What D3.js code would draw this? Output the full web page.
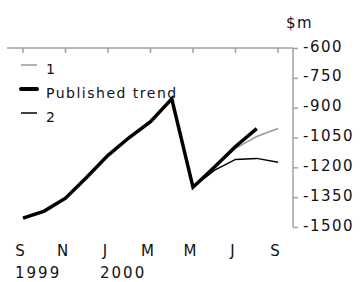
<!DOCTYPE html>
<html>
<head>
<meta charset="utf-8">
<script src="https://cdn.jsdelivr.net/npm/d3@7"></script>
<style>
  body { margin: 0; background: #fff; }
  text { font-family: "DejaVu Sans", sans-serif; fill: #111; }
</style>
</head>
<body>
<div id="chart"></div>
<script>
// months on the x axis, Sep 1999 .. Sep 2000
const months = ["1999-09", "1999-10", "1999-11", "1999-12", "2000-01", "2000-02", "2000-03",
                "2000-04", "2000-05", "2000-06", "2000-07", "2000-08", "2000-09"];
const monthTicks = ["1999-09", "1999-11", "2000-01", "2000-03", "2000-05", "2000-07", "2000-09"];
const monthLabels = ["S", "N", "J", "M", "M", "J", "S"];
const yearLabels = ["1999", "", "2000", "", "", "", ""];

// $m
const publishedTrend = [-1455, -1420, -1355, -1250, -1140, -1050, -970, -855, -1300, -1200, -1095, -1005];
const series1Months = ["2000-05", "2000-06", "2000-07", "2000-08", "2000-09"];
const series1 = [-1300, -1200, -1105, -1045, -1005];
const series2 = [-1300, -1215, -1160, -1155, -1175];
const yTicks = [-600, -750, -900, -1050, -1200, -1350, -1500];

const width = 361, height = 282;
const axisColor = "#a0a0a0";

const svg = d3.select("#chart").append("svg")
  .attr("width", width)
  .attr("height", height);

const x = d3.scalePoint().domain(months).range([23, 278]);
const y = d3.scaleLinear().domain([-1500, -600]).range([227, 48]);

// top frame line with month ticks
svg.append("line")
  .attr("x1", 7).attr("x2", 293)
  .attr("y1", y(-600)).attr("y2", y(-600))
  .attr("stroke", axisColor).attr("stroke-width", 1.5);

svg.selectAll(".mtick")
  .data(monthTicks)
  .enter().append("line")
  .attr("x1", d => x(d)).attr("x2", d => x(d))
  .attr("y1", y(-600)).attr("y2", y(-600) + 5)
  .attr("stroke", axisColor).attr("stroke-width", 1.5);

// right value axis
const yAxis = d3.axisRight(y).tickValues(yTicks).tickSize(5).tickPadding(5)
  .tickFormat(d => d);

const gy = svg.append("g")
  .attr("transform", "translate(293,0)")
  .call(yAxis);
gy.select(".domain").attr("stroke", axisColor).attr("stroke-width", 1.5)
  .attr("d", `M0,${y(-600)}V${y(-1500)}`);
gy.selectAll(".tick line").attr("stroke", axisColor).attr("stroke-width", 1.5);
gy.selectAll(".tick text")
  .attr("font-family", "DejaVu Sans")
  .attr("font-size", 15)
  .attr("letter-spacing", 1.5)
  .attr("dy", "0.2em")
  .attr("fill", "#111");

svg.append("text")
  .attr("x", 286).attr("y", 28)
  .style("font-size", "15px")
  .style("letter-spacing", "1.5px")
  .text("$m");

// x labels
svg.selectAll(".mlab")
  .data(monthTicks)
  .enter().append("text")
  .attr("x", d => x(d) - 3)
  .attr("y", 256)
  .attr("text-anchor", "middle")
  .style("font-size", "15px")
  .text((d, i) => monthLabels[i]);

svg.selectAll(".ylab")
  .data(monthTicks)
  .enter().append("text")
  .attr("x", d => x(d) - 8)
  .attr("y", 278)
  .style("font-size", "15px")
  .style("letter-spacing", "2px")
  .text((d, i) => yearLabels[i]);

// lines
const line = d3.line()
  .x(d => x(d.m))
  .y(d => y(d.v));

svg.append("path")
  .datum(series1Months.map((m, i) => ({ m, v: series1[i] })))
  .attr("fill", "none")
  .attr("stroke", "#999")
  .attr("stroke-width", 1.5)
  .attr("d", line);

svg.append("path")
  .datum(series1Months.map((m, i) => ({ m, v: series2[i] })))
  .attr("fill", "none")
  .attr("stroke", "#000")
  .attr("stroke-width", 1.5)
  .attr("d", line);

svg.append("path")
  .datum(publishedTrend.map((v, i) => ({ m: months[i], v })))
  .attr("fill", "none")
  .attr("stroke", "#000")
  .attr("stroke-width", 3.5)
  .attr("d", line);

// legend
const legendItems = [
  { label: "1", color: "#999", w: 1.5 },
  { label: "Published trend", color: "#000", w: 4 },
  { label: "2", color: "#000", w: 1.5 }
];

const legend = svg.selectAll(".leg")
  .data(legendItems)
  .enter().append("g")
  .attr("transform", (d, i) => `translate(0,${65 + i * 24})`);

legend.append("line")
  .attr("x1", 21).attr("x2", 37)
  .attr("y1", 0).attr("y2", 0)
  .attr("stroke", d => d.color)
  .attr("stroke-width", d => d.w)
  .attr("stroke-linecap", d => d.w > 2 ? "round" : "butt");

legend.append("text")
  .attr("x", 46).attr("y", 9)
  .style("font-size", "14px")
  .style("letter-spacing", "1.5px")
  .text(d => d.label);
</script>
</body>
</html>
